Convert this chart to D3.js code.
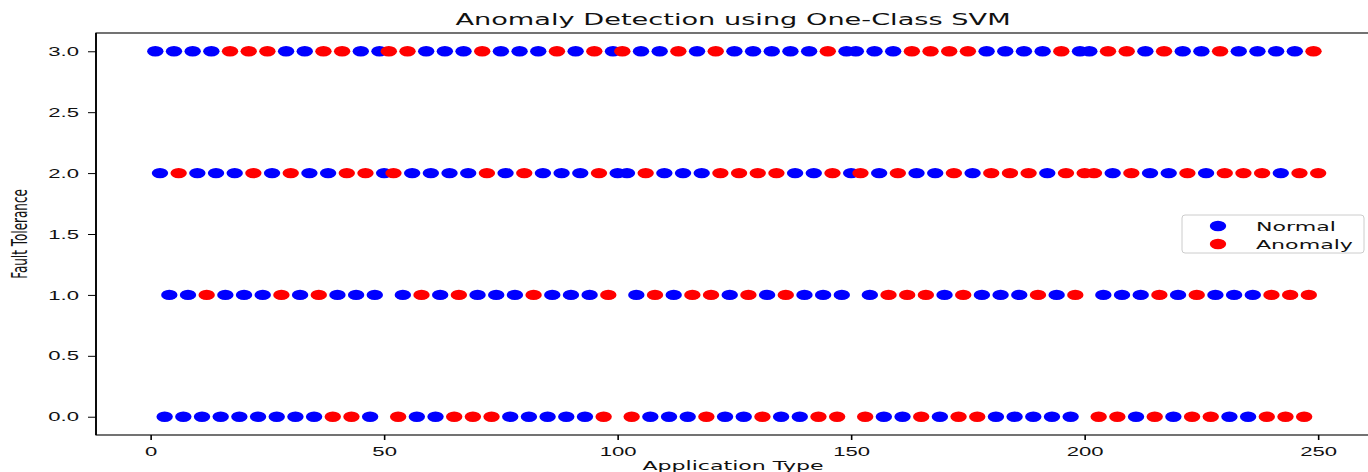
<!DOCTYPE html>
<html>
<head>
<meta charset="utf-8">
<script src="https://cdn.jsdelivr.net/npm/d3@7"></script>
<style>
  body { margin: 0; background: #fff; }
</style>
</head>
<body>
<div id="chart"></div>
<script>
// Application Type (x) of each point, one list per Fault Tolerance level
var row3X = [1,5,9,13,17,21,25,29,33,37,41,45,49,
             51,55,59,63,67,71,75,79,83,87,91,95,99,
             101,105,109,113,117,121,125,129,133,137,141,145,149,
             151,155,159,163,167,171,175,179,183,187,191,195,199,
             201,205,209,213,217,221,225,229,233,237,241,245,249];
var row2X = [2,6,10,14,18,22,26,30,34,38,42,46,50,
             52,56,60,64,68,72,76,80,84,88,92,96,100,
             102,106,110,114,118,122,126,130,134,138,142,146,150,
             152,156,160,164,168,172,176,180,184,188,192,196,200,
             202,206,210,214,218,222,226,230,234,238,242,246,250];
var row1X = [4,8,12,16,20,24,28,32,36,40,44,48,
             54,58,62,66,70,74,78,82,86,90,94,98,
             104,108,112,116,120,124,128,132,136,140,144,148,
             154,158,162,166,170,174,178,182,186,190,194,198,
             204,208,212,216,220,224,228,232,236,240,244,248];
var row0X = [3,7,11,15,19,23,27,31,35,39,43,47,
             53,57,61,65,69,73,77,81,85,89,93,97,
             103,107,111,115,119,123,127,131,135,139,143,147,
             153,157,161,165,169,173,177,181,185,189,193,197,
             203,207,211,215,219,223,227,231,235,239,243,247];

// 1 = Anomaly, 0 = Normal (same order as the x lists)
var row3Anomaly = [0,0,0,0,1,1,1,0,0,1,1,0,0,
                   1,1,0,0,0,1,0,0,0,1,0,1,0,
                   1,0,0,1,0,1,0,0,0,0,0,1,0,
                   0,0,0,1,1,1,1,0,0,0,0,1,0,
                   0,1,1,0,1,0,0,1,0,0,0,0,1];
var row2Anomaly = [0,1,0,0,0,1,0,1,0,0,1,1,0,
                   1,0,0,0,0,1,0,1,0,0,0,1,0,
                   0,1,0,0,0,1,1,1,1,0,0,1,0,
                   1,0,1,0,0,1,0,1,1,1,0,1,1,
                   1,0,1,0,0,1,0,1,1,1,0,1,1];
var row1Anomaly = [0,0,1,0,0,0,1,0,1,0,0,0,
                   0,1,0,1,0,0,0,1,0,0,0,1,
                   0,1,0,1,1,0,1,0,1,0,0,0,
                   0,1,1,1,0,1,0,0,0,1,0,1,
                   0,0,0,1,0,1,0,0,0,1,1,1];
var row0Anomaly = [0,0,0,0,0,0,0,0,0,1,1,0,
                   1,0,0,1,1,1,0,0,0,0,0,1,
                   1,0,0,0,1,0,0,1,0,0,1,1,
                   1,0,0,1,0,1,1,0,0,0,0,0,
                   1,1,0,1,0,1,1,0,0,1,1,1];

var xTicks = [0, 50, 100, 150, 200, 250];
var yTicks = [0, 0.5, 1, 1.5, 2, 2.5, 3];
var seriesNames = ["Normal", "Anomaly"];
var seriesColors = ["blue", "red"];

// the original picture is stretched sideways, so text and dots are too
var SX = 1.7;
var width = 1368, height = 472;

var svg = d3.select("#chart")
    .append("svg")
    .attr("width", width)
    .attr("height", height)
    .style("font-family", "'DejaVu Sans', sans-serif");

var x = d3.scaleLinear().domain([-11.7, 261.1]).range([96, 1370]);
var y = d3.scaleLinear().domain([-0.15, 3.15]).range([435, 33]);

// build the point table from the rows
var rows = [
    {level: 3, xs: row3X, flags: row3Anomaly},
    {level: 2, xs: row2X, flags: row2Anomaly},
    {level: 1, xs: row1X, flags: row1Anomaly},
    {level: 0, xs: row0X, flags: row0Anomaly}
];
var data = [];
rows.forEach(function(r) {
    r.xs.forEach(function(v, i) {
        data.push({app: v, fault: r.level, anomaly: r.flags[i]});
    });
});

// normal first, anomalies drawn over them
[0, 1].forEach(function(k) {
    svg.append("g")
        .selectAll("ellipse")
        .data(data.filter(function(d) { return d.anomaly === k; }))
        .enter()
        .append("ellipse")
        .attr("cx", function(d) { return x(d.app); })
        .attr("cy", function(d) { return y(d.fault); })
        .attr("rx", 8.2)
        .attr("ry", 5.2)
        .style("fill", seriesColors[k]);
});

// axes
var gx = svg.append("g")
    .attr("transform", "translate(0,435)")
    .call(d3.axisBottom(x).tickValues(xTicks).tickSize(5).tickPadding(7).tickFormat(d3.format("d")));
gx.select(".domain").remove();
gx.selectAll("line").style("stroke", "#000").style("stroke-width", 1.6);
gx.selectAll("text")
    .style("font-size", "13px")
    .style("fill", "#111")
    .attr("transform", "scale(" + SX + ",1)");

var gy = svg.append("g")
    .attr("transform", "translate(96,0)")
    .call(d3.axisLeft(y).tickValues(yTicks).tickSize(8).tickFormat(d3.format(".1f")));
gy.select(".domain").remove();
gy.selectAll("line").style("stroke", "#000").style("stroke-width", 1);
gy.selectAll("text")
    .style("font-size", "13px")
    .style("fill", "#111")
    .attr("x", -17 / SX)
    .attr("transform", "scale(" + SX + ",1)");

// spines
svg.append("rect")
    .attr("x", 96).attr("y", 33)
    .attr("width", 1370 - 96).attr("height", 435 - 33)
    .style("fill", "none")
    .style("stroke", "#000")
    .style("stroke-width", 1.1);
svg.append("line")
    .attr("x1", 96).attr("x2", 96).attr("y1", 33).attr("y2", 435)
    .style("stroke", "#000")
    .style("stroke-width", 1.8);

// title and axis labels
svg.append("text")
    .attr("transform", "translate(733,25) scale(" + SX + ",1)")
    .attr("text-anchor", "middle")
    .style("font-size", "16px")
    .style("fill", "#111")
    .text("Anomaly Detection using One-Class SVM");

svg.append("text")
    .attr("transform", "translate(733,470) scale(" + SX + ",1)")
    .attr("text-anchor", "middle")
    .style("font-size", "13px")
    .style("fill", "#111")
    .text("Application Type");

svg.append("text")
    .attr("transform", "translate(27,234) scale(" + SX + ",1) rotate(-90)")
    .attr("text-anchor", "middle")
    .style("font-size", "12px")
    .style("fill", "#111")
    .text("Fault Tolerance");

// legend
var legend = svg.append("g").attr("transform", "translate(1182,215)");
legend.append("rect")
    .attr("width", 182).attr("height", 38).attr("rx", 3)
    .style("fill", "#fff").style("fill-opacity", 0.8)
    .style("stroke", "#ccc").style("stroke-width", 1);
seriesNames.forEach(function(name, i) {
    legend.append("ellipse")
        .attr("cx", 36).attr("cy", 11 + i * 18)
        .attr("rx", 8.2).attr("ry", 5.2)
        .style("fill", seriesColors[i]);
    legend.append("text")
        .attr("transform", "translate(74," + (15.5 + i * 18) + ") scale(" + SX + ",1)")
        .style("font-size", "13px")
        .style("fill", "#111")
        .text(name);
});
</script>
</body>
</html>
